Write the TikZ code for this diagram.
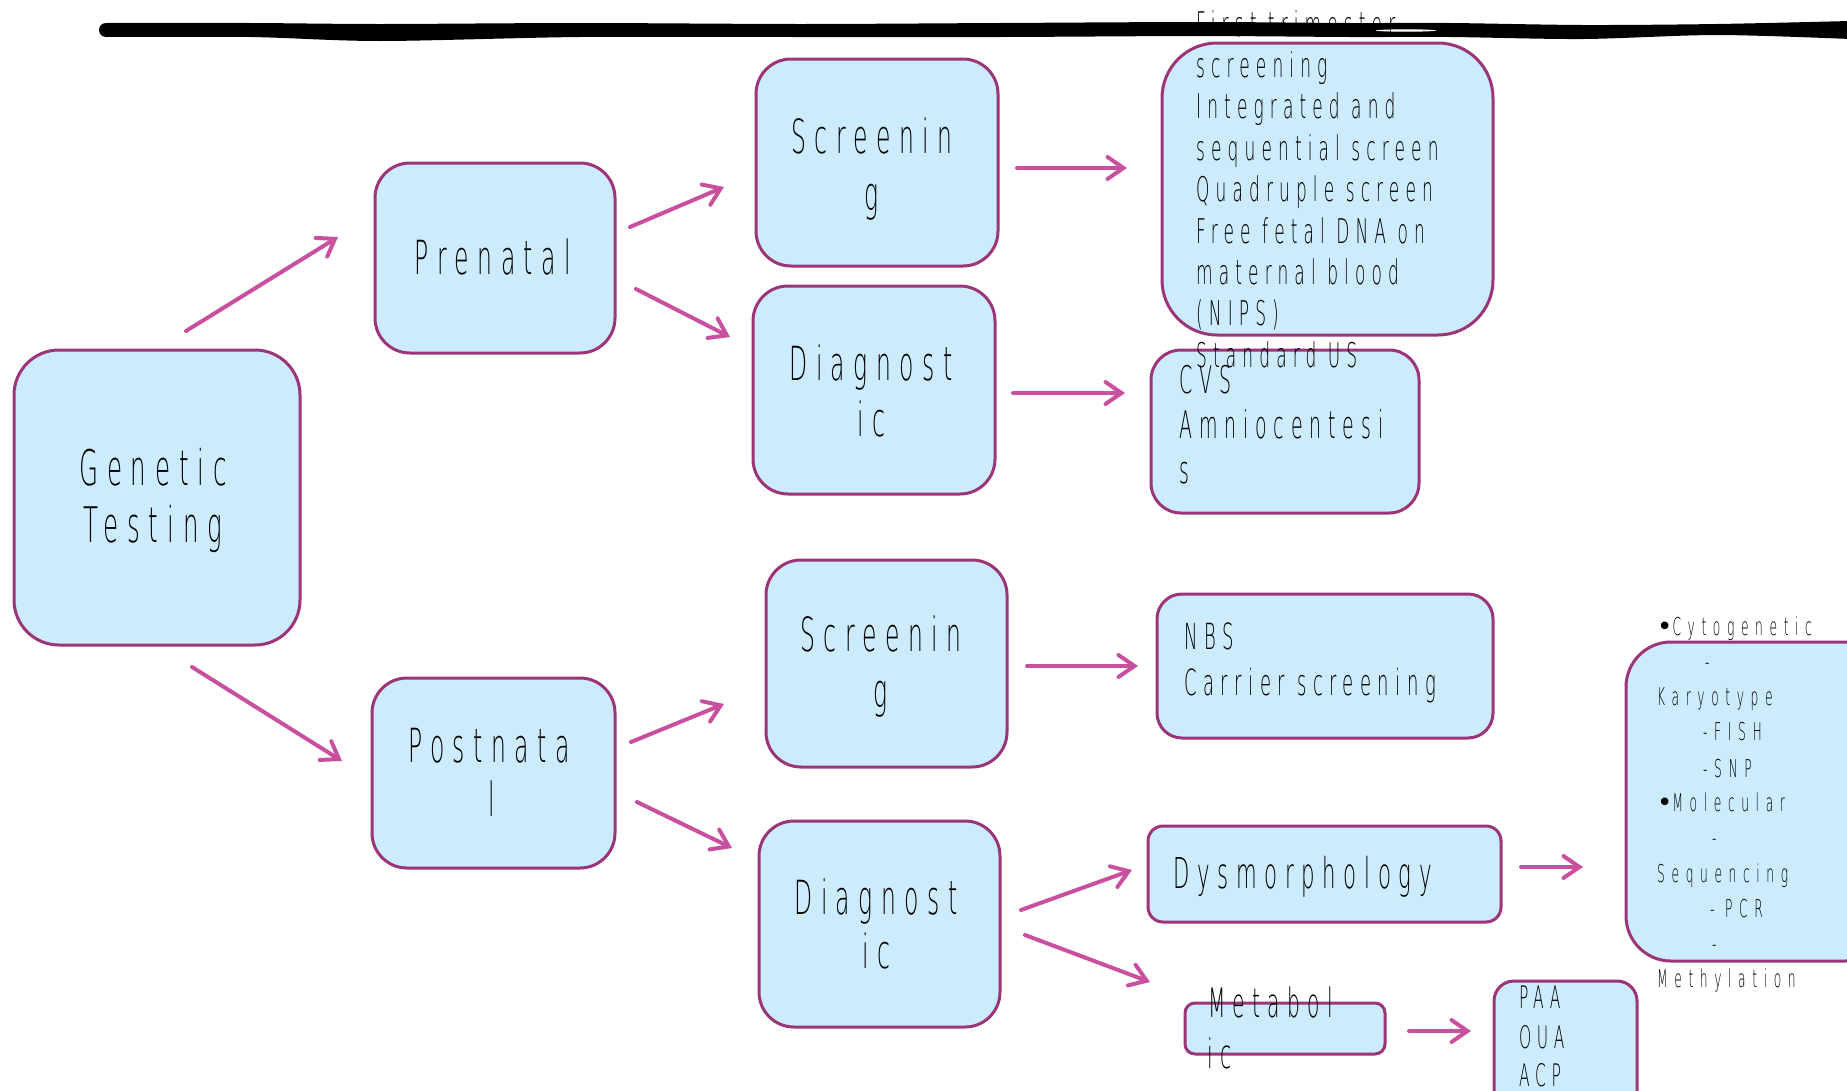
\documentclass[tikz,border=0pt]{standalone}
\usepackage{fontspec}
\newfontfamily\hf{DejaVu Sans ExtraLight}[FakeStretch=0.5,LetterSpace=18]
\newfontfamily\hfw{DejaVu Sans ExtraLight}[FakeStretch=0.5,LetterSpace=27]
\newfontfamily\bulf{DejaVu Sans}
\usetikzlibrary{arrows.meta}
\definecolor{bordc}{HTML}{9B3478}
\definecolor{fillc}{HTML}{CCECFE}
\definecolor{arrc}{HTML}{C8509E}
\tikzset{
  box/.style={draw=bordc, fill=fillc, line width=3pt, inner sep=0pt, rounded corners=#1},
  box/.default=35pt,
  arr/.style={draw=arrc, line width=4pt, line cap=round,
    -{Straight Barb[length=16pt,width=22pt,line cap=round]}},
  lbl/.style={inner sep=0pt, anchor=base, text=black},
  lbw/.style={inner sep=0pt, anchor=base west, text=black},
  big/.style={font=\hf\fontsize{47}{56}\selectfont},
}
\newcommand\boxat[6]{\node[box=#6, minimum width={#4-#2}, minimum height={#5-#3}] (#1) at ({(#2+#4)/2},{(#3+#5)/2}) {};}
\newcommand\bul{{\bulf\fontsize{26}{30}\selectfont •}}
\begin{document}
\begin{tikzpicture}[x=1pt,y=-1pt]
\useasboundingbox (0,0) rectangle (1847,1090);
% black scribble line
\fill[black] plot[smooth] coordinates {(106,23) (250,23) (380,24) (580,23) (800,24) (1000,23) (1200,22) (1350,23) (1450,23) (1583,25) (1717,24) (1850,21)}
  -- plot[smooth] coordinates {(1850,39) (1717,35) (1583,39) (1450,37) (1350,37) (1200,36) (1000,37) (800,37) (580,37) (380,41) (250,37) (106,37)} -- cycle;
\fill[black] (106,30) circle (7);
\fill[white] (1406,30.5) ellipse (30 and 1.2);
% boxes
\boxat{gen}{14}{350}{300}{645}{45pt}
\boxat{pre}{375}{163}{615}{353}{35pt}
\boxat{scA}{756}{59}{998}{266}{35pt}
\boxat{diA}{753}{286}{995}{494}{35pt}
\boxat{lst}{1162}{43}{1493}{335}{55pt}
\boxat{cvs}{1151}{350}{1419}{513}{30pt}
\boxat{pos}{372}{678}{615}{868}{35pt}
\boxat{scB}{766}{560}{1007}{767}{35pt}
\boxat{diB}{759}{821}{1000}{1027}{35pt}
\boxat{nbs}{1157}{594}{1493}{738}{25pt}
\boxat{dys}{1148}{826}{1501}{922}{15pt}
\boxat{met}{1185}{1003}{1385}{1054}{10pt}
\boxat{paa}{1494}{981}{1637}{1115}{20pt}
\boxat{cyt}{1626}{642}{1890}{961}{45pt}
% arrow end points
\coordinate (a1s) at (186,331);   \coordinate (a1e) at (338,237);
\coordinate (a2s) at (192,667);   \coordinate (a2e) at (342,761);
\coordinate (a3s) at (630,227);   \coordinate (a3e) at (724,187);
\coordinate (a4s) at (636,289);   \coordinate (a4e) at (730,337);
\coordinate (a5s) at (1017,168);  \coordinate (a5e) at (1127,168);
\coordinate (a6s) at (1013,393);  \coordinate (a6e) at (1125,393);
\coordinate (a7s) at (631,742);   \coordinate (a7e) at (724,704);
\coordinate (a8s) at (637,802);   \coordinate (a8e) at (732,848);
\coordinate (a9s) at (1027,666);  \coordinate (a9e) at (1138,666);
\coordinate (a10s) at (1021,910); \coordinate (a10e) at (1132,870);
\coordinate (a11s) at (1025,935); \coordinate (a11e) at (1150,982);
\coordinate (a12s) at (1521,867); \coordinate (a12e) at (1583,867);
\coordinate (a13s) at (1409,1031);\coordinate (a13e) at (1471,1031);
\foreach \k in {1,...,13} \draw[arr] (a\k s) -- (a\k e);
% texts
\node[lbl, font=\hf\fontsize{49}{56}\selectfont] (tg1) at (153,485) {Genetic};
\node[lbl, font=\hf\fontsize{49}{56}\selectfont] (tg2) at (153,542) {Testing};
\node[lbl, big] (tpre) at (493,274) {Prenatal};
\node[lbl, big] (tsa1) at (872,153) {Screenin};
\node[lbl, big] (tsa2) at (872,210) {g};
\node[lbl, big] (tda1) at (871,380) {Diagnost};
\node[lbl, big] (tda2) at (871,436) {ic};
\node[lbl, big] (tpo1) at (489,762) {Postnata};
\node[lbl, big] (tpo2) at (492,816) {l};
\node[lbl, big] (tsb1) at (881,651) {Screenin};
\node[lbl, big] (tsb2) at (881,707) {g};
\node[lbl, big] (tdb1) at (876,914) {Diagnost};
\node[lbl, big] (tdb2) at (876,968) {ic};
\foreach \t [count=\i] in {First trimester,screening,Integrated and,sequential screen,Quadruple screen,Free fetal DNA on,maternal blood,(NIPS),Standard US}
  \node[lbw, font=\hf\fontsize{34}{40}\selectfont] (tl\i) at (1196,{36+41.4*(\i-1)}) {\t};
\foreach \t/\yy [count=\i] in {CVS/393,Amniocentesi/438,s/483}
  \node[lbw, font=\hf\fontsize{38}{44}\selectfont] (tc\i) at (1179,\yy) {\t};
\node[lbw, font=\hf\fontsize{36}{44}\selectfont] (tn1) at (1184,649) {NBS};
\node[lbw, font=\hf\fontsize{36}{44}\selectfont] (tn2) at (1184,695) {Carrier screening};
\node[lbw, font=\hf\fontsize{42.5}{50}\selectfont] (tdy) at (1173,888) {Dysmorphology};
\node[lbw, font=\hf\fontsize{40.5}{50}\selectfont] (tm1) at (1208,1017) {Metabol};
\node[lbw, font=\hf\fontsize{40.5}{50}\selectfont] (tm2) at (1207,1068) {ic};
\foreach \t/\yy [count=\i] in {PAA/1008,OUA/1048,ACP/1086}
  \node[lbw, font=\hf\fontsize{31}{38}\selectfont] (tp\i) at (1519,\yy) {\t};
\foreach \t/\xx/\yy [count=\i] in {{\bul Cytogenetic}/1657/635,-/1705/670,Karyotype/1657/705,-FISH/1703/740,-SNP/1703/777,{\bul Molecular}/1657/811,-/1712/846,Sequencing/1657/882,- PCR/1710/917,-/1712/952,Methylation/1657/987}
  \node[lbw, font=\hfw\fontsize{24.5}{30}\selectfont] (tk\i) at (\xx,\yy) {\t};
\end{tikzpicture}
\end{document}
